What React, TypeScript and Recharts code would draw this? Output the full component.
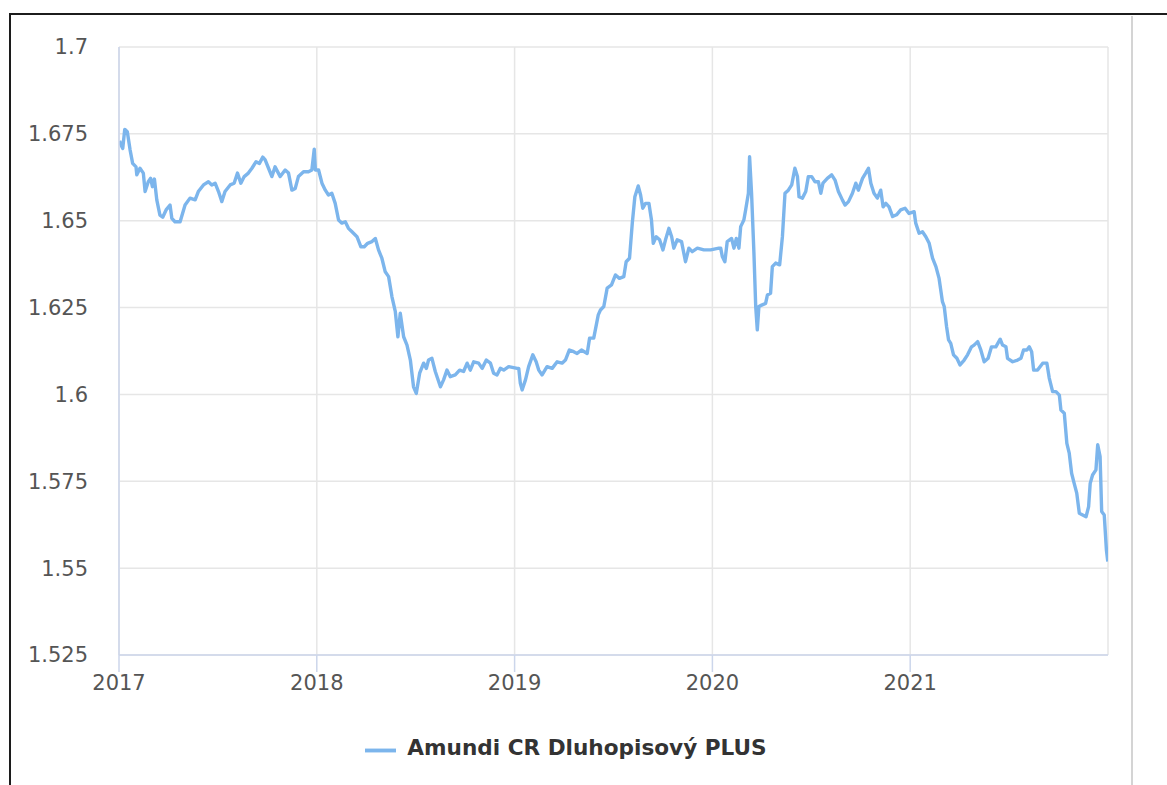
import React from 'react';
import { LineChart, Line, XAxis, YAxis, CartesianGrid, Legend } from 'recharts';

// Time expressed as decimal year
const years: number[] = [
  2017.003, 2017.010, 2017.019, 2017.029, 2017.042, 2017.056, 2017.069, 2017.086, 2017.090, 2017.106,
  2017.123, 2017.132, 2017.148, 2017.160, 2017.169, 2017.179, 2017.191, 2017.207, 2017.221, 2017.238,
  2017.258, 2017.267, 2017.283, 2017.309, 2017.334, 2017.359, 2017.385, 2017.401, 2017.427, 2017.452,
  2017.469, 2017.486, 2017.503, 2017.520, 2017.536, 2017.562, 2017.582, 2017.599, 2017.616, 2017.633,
  2017.654, 2017.672, 2017.693, 2017.710, 2017.727, 2017.739, 2017.756, 2017.773, 2017.789, 2017.815,
  2017.840, 2017.857, 2017.874, 2017.891, 2017.907, 2017.933, 2017.958, 2017.975, 2017.987, 2017.993,
  2018.009, 2018.026, 2018.043, 2018.059, 2018.076, 2018.093, 2018.110, 2018.127, 2018.144, 2018.160,
  2018.178, 2018.203, 2018.223, 2018.240, 2018.257, 2018.279, 2018.296, 2018.312, 2018.329, 2018.346,
  2018.363, 2018.380, 2018.397, 2018.410, 2018.422, 2018.439, 2018.456, 2018.473, 2018.489, 2018.503,
  2018.520, 2018.540, 2018.554, 2018.565, 2018.582, 2018.599, 2018.625, 2018.641, 2018.658, 2018.675,
  2018.700, 2018.722, 2018.742, 2018.760, 2018.776, 2018.793, 2018.818, 2018.836, 2018.857, 2018.878,
  2018.894, 2018.911, 2018.928, 2018.945, 2018.970, 2019.013, 2019.021, 2019.029, 2019.038, 2019.055,
  2019.071, 2019.092, 2019.109, 2019.122, 2019.139, 2019.164, 2019.190, 2019.215, 2019.240, 2019.257,
  2019.277, 2019.299, 2019.316, 2019.338, 2019.367, 2019.379, 2019.400, 2019.423, 2019.434, 2019.451,
  2019.468, 2019.490, 2019.510, 2019.530, 2019.552, 2019.564, 2019.581, 2019.595, 2019.608, 2019.625,
  2019.637, 2019.648, 2019.662, 2019.679, 2019.692, 2019.701, 2019.716, 2019.733, 2019.750, 2019.763,
  2019.780, 2019.794, 2019.805, 2019.822, 2019.844, 2019.864, 2019.881, 2019.898, 2019.924, 2019.957,
  2019.991, 2020.033, 2020.042, 2020.050, 2020.063, 2020.075, 2020.097, 2020.109, 2020.121, 2020.134,
  2020.143, 2020.159, 2020.168, 2020.182, 2020.188, 2020.198, 2020.210, 2020.219, 2020.227, 2020.235,
  2020.249, 2020.269, 2020.278, 2020.294, 2020.303, 2020.320, 2020.340, 2020.354, 2020.367, 2020.384,
  2020.401, 2020.417, 2020.430, 2020.438, 2020.455, 2020.472, 2020.485, 2020.502, 2020.519, 2020.536,
  2020.548, 2020.559, 2020.581, 2020.603, 2020.620, 2020.637, 2020.657, 2020.671, 2020.688, 2020.708,
  2020.725, 2020.738, 2020.759, 2020.775, 2020.789, 2020.801, 2020.817, 2020.834, 2020.851, 2020.863,
  2020.877, 2020.893, 2020.911, 2020.931, 2020.952, 2020.974, 2020.994, 2021.020, 2021.028, 2021.045,
  2021.062, 2021.079, 2021.096, 2021.113, 2021.130, 2021.146, 2021.163, 2021.172, 2021.184, 2021.194,
  2021.205, 2021.219, 2021.236, 2021.252, 2021.273, 2021.290, 2021.310, 2021.323, 2021.341, 2021.357,
  2021.374, 2021.394, 2021.411, 2021.433, 2021.455, 2021.467, 2021.484, 2021.492, 2021.518, 2021.543,
  2021.560, 2021.573, 2021.590, 2021.602, 2021.614, 2021.624, 2021.644, 2021.670, 2021.691, 2021.703,
  2021.720, 2021.737, 2021.754, 2021.762, 2021.779, 2021.792, 2021.804, 2021.816, 2021.829, 2021.842,
  2021.855, 2021.872, 2021.889, 2021.902, 2021.910, 2021.922, 2021.939, 2021.948, 2021.960, 2021.968,
  2021.981, 2021.992, 2021.999,
];

const navValues: number[] = [
  1.6730, 1.6718, 1.6708, 1.6763, 1.6756, 1.6704, 1.6665, 1.6655, 1.6632, 1.6651,
  1.6637, 1.6584, 1.6612, 1.6622, 1.6598, 1.6620, 1.6560, 1.6516, 1.6510, 1.6531,
  1.6545, 1.6507, 1.6497, 1.6497, 1.6545, 1.6565, 1.6560, 1.6584, 1.6603, 1.6612,
  1.6603, 1.6608, 1.6584, 1.6555, 1.6584, 1.6603, 1.6608, 1.6637, 1.6608, 1.6627,
  1.6637, 1.6651, 1.6670, 1.6665, 1.6683, 1.6675, 1.6651, 1.6627, 1.6655, 1.6627,
  1.6646, 1.6637, 1.6588, 1.6593, 1.6627, 1.6641, 1.6641, 1.6646, 1.6706, 1.6646,
  1.6646, 1.6608, 1.6588, 1.6574, 1.6579, 1.6550, 1.6502, 1.6493, 1.6497, 1.6478,
  1.6468, 1.6454, 1.6425, 1.6425, 1.6435, 1.6440, 1.6449, 1.6416, 1.6392, 1.6353,
  1.6339, 1.6281, 1.6238, 1.6166, 1.6234, 1.6166, 1.6142, 1.6099, 1.6022, 1.6003,
  1.6061, 1.6090, 1.6075, 1.6099, 1.6104, 1.6066, 1.6022, 1.6042, 1.6070, 1.6051,
  1.6056, 1.6070, 1.6066, 1.6090, 1.6070, 1.6094, 1.6090, 1.6075, 1.6099, 1.6090,
  1.6061, 1.6056, 1.6075, 1.6070, 1.6080, 1.6075, 1.6075, 1.6032, 1.6013, 1.6042,
  1.6080, 1.6114, 1.6094, 1.6070, 1.6056, 1.6080, 1.6075, 1.6094, 1.6090, 1.6099,
  1.6128, 1.6123, 1.6118, 1.6128, 1.6118, 1.6162, 1.6162, 1.6229, 1.6243, 1.6253,
  1.6306, 1.6315, 1.6344, 1.6334, 1.6339, 1.6382, 1.6392, 1.6493, 1.6569, 1.6600,
  1.6574, 1.6536, 1.6550, 1.6550, 1.6502, 1.6435, 1.6454, 1.6445, 1.6416, 1.6445,
  1.6478, 1.6454, 1.6421, 1.6445, 1.6440, 1.6382, 1.6421, 1.6411, 1.6421, 1.6416,
  1.6416, 1.6421, 1.6421, 1.6397, 1.6382, 1.6440, 1.6449, 1.6421, 1.6449, 1.6421,
  1.6483, 1.6502, 1.6531, 1.6579, 1.6684, 1.6579, 1.6406, 1.6253, 1.6186, 1.6253,
  1.6257, 1.6262, 1.6286, 1.6291, 1.6368, 1.6378, 1.6373, 1.6454, 1.6579, 1.6588,
  1.6603, 1.6651, 1.6627, 1.6569, 1.6565, 1.6584, 1.6627, 1.6627, 1.6612, 1.6612,
  1.6579, 1.6608, 1.6622, 1.6632, 1.6617, 1.6584, 1.6560, 1.6545, 1.6555, 1.6579,
  1.6608, 1.6588, 1.6622, 1.6637, 1.6651, 1.6608, 1.6579, 1.6565, 1.6588, 1.6540,
  1.6550, 1.6540, 1.6512, 1.6517, 1.6531, 1.6536, 1.6521, 1.6526, 1.6493, 1.6464,
  1.6468, 1.6454, 1.6435, 1.6392, 1.6368, 1.6334, 1.6267, 1.6253, 1.6195, 1.6157,
  1.6147, 1.6114, 1.6104, 1.6085, 1.6099, 1.6114, 1.6137, 1.6142, 1.6152, 1.6128,
  1.6094, 1.6104, 1.6137, 1.6137, 1.6159, 1.6142, 1.6137, 1.6104, 1.6094, 1.6099,
  1.6104, 1.6128, 1.6128, 1.6137, 1.6123, 1.6070, 1.6070, 1.6090, 1.6090, 1.6047,
  1.6008, 1.6008, 1.5998, 1.5955, 1.5946, 1.5859, 1.5831, 1.5773, 1.5744, 1.5716,
  1.5658, 1.5653, 1.5648, 1.5677, 1.5744, 1.5768, 1.5783, 1.5855, 1.5821, 1.5663,
  1.5653, 1.5552, 1.5519,
];

const xTickLabels: number[] = [2017, 2018, 2019, 2020, 2021];
const yTickLabels: number[] = [1.525, 1.55, 1.575, 1.6, 1.625, 1.65, 1.675, 1.7];
const seriesName = 'Amundi CR Dluhopisový PLUS';

const data = years.map((t, i) => ({ t, nav: navValues[i] }));

const FONT = '"DejaVu Sans", Verdana, sans-serif';

export default function App() {
  return (
    <div style={{ position: 'absolute', left: 0, top: 0, width: 1167, height: 785, background: '#fff', fontFamily: FONT, overflow: 'hidden' }}>
      <div style={{ position: 'absolute', left: 9, top: 13, width: 1170, height: 780, borderTop: '2px solid #1c1c1c', borderLeft: '2px solid #1c1c1c', boxSizing: 'border-box' }} />
      <div style={{ position: 'absolute', left: 1131, top: 16, width: 2, height: 780, background: '#d4d4d4' }} />
      <div style={{ position: 'absolute', left: 0, top: 0 }}>
        <LineChart width={1167} height={785} data={data} margin={{ top: 47, right: 59, left: 19, bottom: 19 }}>
          <CartesianGrid stroke="#e6e6e6" strokeWidth={1.5} />
          <XAxis
            dataKey="t"
            type="number"
            domain={[2017, 2022]}
            ticks={xTickLabels}
            allowDataOverflow
            height={80}
            stroke="#ccd6eb"
            strokeWidth={1.5}
            tickSize={17}
            tickMargin={3}
            tick={{ fill: '#555', fontSize: 21, fontFamily: FONT }}
            tickFormatter={(v: number) => String(Math.round(v))}
          />
          <YAxis
            type="number"
            domain={[1.525, 1.7]}
            ticks={yTickLabels}
            width={100}
            stroke="#ccd6eb"
            strokeWidth={1.5}
            tickSize={0}
            tickMargin={31}
            tick={{ fill: '#555', fontSize: 21, fontFamily: FONT }}
          />
          <Legend
            verticalAlign="bottom"
            iconType="plainline"
            iconSize={31}
            wrapperStyle={{ left: 10, width: 1122, fontFamily: FONT }}
            formatter={() => (
              <span style={{ color: '#333', fontWeight: 'bold', fontSize: 21.6, marginLeft: 7 }}>{seriesName}</span>
            )}
          />
          <Line
            type="linear"
            dataKey="nav"
            name={seriesName}
            stroke="#7cb5ec"
            strokeWidth={3.4}
            strokeLinejoin="round"
            dot={false}
            activeDot={false}
            isAnimationActive={false}
          />
        </LineChart>
      </div>
    </div>
  );
}
